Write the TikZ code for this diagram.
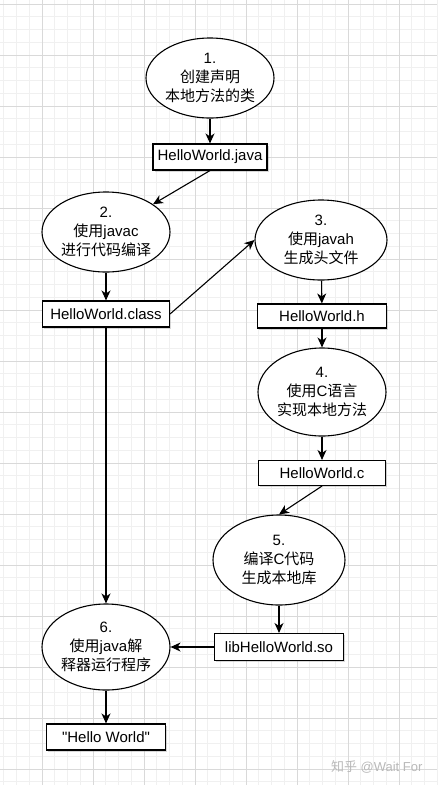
\documentclass[tikz,border=0pt]{standalone}
\usepackage{fontspec}
\setmainfont[Ligatures=TeXOff]{Liberation Sans}
\newfontfamily\zh{Noto Sans CJK SC}
\usetikzlibrary{shapes.geometric, arrows.meta, shadows}
\definecolor{gridminor}{HTML}{F0F0F0}
\definecolor{gridmajor}{HTML}{D9D9D9}

\begin{document}
\begin{tikzpicture}[x=1pt, y=-1pt,
    stepnode/.style={ellipse, draw, fill=white, line width=1.1pt, inner sep=0pt,
        minimum width=128pt, minimum height=80pt, align=center,
        font=\fontsize{15}{19}\selectfont},
    filebox/.style={rectangle, draw, fill=white, line width=1.1pt, inner sep=0pt,
        minimum height=26pt, font=\fontsize{15}{18}\selectfont,
        drop shadow={shadow xshift=1.5pt, shadow yshift=-1.5pt, opacity=0.3}},
    flow/.style={line width=1.1pt, -{Stealth[length=10pt, width=9pt, inset=3pt]}}]
    \useasboundingbox (0, 0) rectangle (437, 785);
    \fill[white] (0, 0) rectangle (437, 785);

    % Grid (minor every 12.75, major every 51)
    \foreach \i in {0,...,34}
        \draw[gridminor, line width=0.6pt] ({3.75+12.75*\i}, 0) -- ++(0, 785);
    \foreach \j in {0,...,61}
        \draw[gridminor, line width=0.6pt] (0, {4+12.75*\j}) -- ++(437, 0);
    \foreach \i in {0,...,7}
        \draw[gridmajor, line width=0.7pt] ({42+51*\i}, 0) -- ++(0, 785);
    \foreach \j in {0,...,15}
        \draw[gridmajor, line width=0.7pt] (0, {4+51*\j}) -- ++(437, 0);

    % Steps
    \node[stepnode] (declare) at (210, 78) {1.\\{\zh 创建声明}\\{\zh 本地方法的类}};
    \node[stepnode] (javac) at (106, 232) {2.\\{\zh 使用}javac\\{\zh 进行代码编译}};
    \node[stepnode, minimum width=132pt] (javah) at (321, 240) {3.\\{\zh 使用}javah\\{\zh 生成头文件}};
    \node[stepnode, minimum height=88pt] (impl) at (322, 392) {4.\\{\zh 使用}C{\zh 语言}\\{\zh 实现本地方法}};
    \node[stepnode, minimum width=132pt, minimum height=90pt] (build) at (279, 560) {5.\\{\zh 编译}C{\zh 代码}\\{\zh 生成本地库}};
    \node[stepnode, minimum height=86pt] (run) at (106, 647) {6.\\{\zh 使用}java{\zh 解}\\{\zh 释器运行程序}};

    % Files
    \node[filebox, minimum width=114pt] (javafile) at (210, 157) {HelloWorld.java};
    \node[filebox, minimum width=127pt] (classfile) at (106, 314) {HelloWorld.class};
    \node[filebox, minimum width=129pt, minimum height=24pt] (hfile) at (322, 316) {HelloWorld.h};
    \node[filebox, minimum width=127pt, minimum height=25pt] (cfile) at (322, 473) {HelloWorld.c};
    \node[filebox, minimum width=129pt, minimum height=27pt] (sofile) at (279, 647) {libHelloWorld.so};
    \node[filebox, minimum width=119pt] (output) at (106, 737) {"Hello World"};

    % Arrows
    \draw[flow] (declare) -- (javafile);
    \draw[flow] (javafile.south) -- (javac);
    \draw[flow] (javac) -- (classfile);
    \draw[flow] (classfile.east) -- (javah.west);
    \draw[flow] (javah) -- (hfile);
    \draw[flow] (hfile) -- (impl);
    \draw[flow] (impl) -- (cfile);
    \draw[flow] (cfile.south) -- (build.north);
    \draw[flow] (build) -- (sofile);
    \draw[flow] (sofile) -- (run);
    \draw[flow] (classfile) -- (run);
    \draw[flow] (run) -- (output);

    % Watermark
    \node[font=\fontsize{13}{13}\selectfont, text=gray!55, anchor=east] (mark) at (426, 767) {{\zh 知乎} @Wait For};
\end{tikzpicture}
\end{document}
